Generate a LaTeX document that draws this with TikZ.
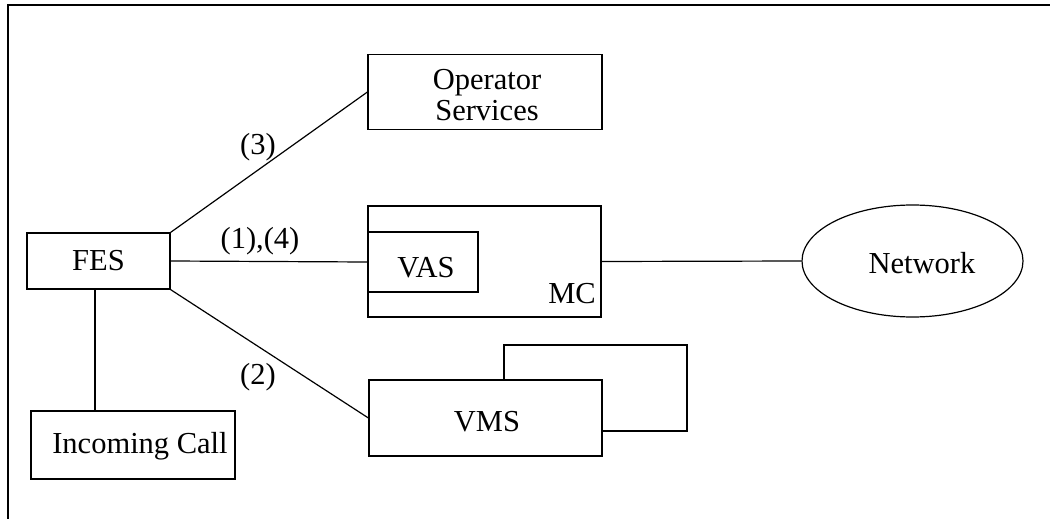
\documentclass[tikz,border=0pt]{standalone}
\usepackage{fontspec}
\setmainfont{Liberation Serif}
\usetikzlibrary{shapes,arrows,positioning}

\begin{document}
\begin{tikzpicture}[x=1pt, y=-1pt, line width=1.2pt,
    font=\fontsize{30.5}{29}\selectfont,
    box/.style={rectangle, draw, fill=white, inner sep=0pt},
    lbl/.style={inner sep=0pt}]
    \useasboundingbox (0,0) rectangle (1050,519);

    % Frame
    \draw[line width=2pt] (7.5,519) -- (7.5,5.5) -- (1050,5.5);

    % Front end
    \node (fes) [box, minimum width=143pt, minimum height=56pt] at (98.5,261) {FES};
    \node (call) [box, minimum width=204pt, minimum height=68pt] at (133,445) {};
    \node (calllbl) [lbl] at (140,446) {Incoming Call};

    % Servers
    \node (ops) [box, minimum width=234pt, minimum height=75pt] at (485,92) {};
    \node (opslbl) [lbl, align=center, font=\fontsize{30.5}{31}\selectfont] at (487,95) {Operator\\Services};
    \node (mc) [box, minimum width=233pt, minimum height=111pt] at (484.5,261.5) {};
    \node (mclbl) [lbl] at (572,294) {MC};
    \node (vas) [box, minimum width=110pt, minimum height=60pt] at (423,262) {};
    \node (vaslbl) [lbl] at (426,268) {VAS};
    \node (vmsback) [box, minimum width=183pt, minimum height=86pt] at (595.5,388) {};
    \node (vms) [box, minimum width=233pt, minimum height=76pt] at (485.5,418) {};
    \node (vmslbl) [lbl] at (487,422) {VMS};

    % Network
    \node (net) [ellipse, draw, minimum width=221pt, minimum height=112pt] at (912.5,261) {};
    \node (netlbl) [lbl] at (922,263) {Network};

    % Connections
    \draw (fes.north east) -- (ops.west);
    \draw (fes.east) -- (vas.west);
    \draw (fes.south east) -- (vms.west);
    \draw (fes.south -| 95,0) -- (call.north -| 95,0);
    \draw (mc.east) -- (net.west);

    % Labels
    \node (l3) [lbl] at (258,147) {(3)};
    \node (l14) [lbl] at (260,241) {(1),(4)};
    \node (l2) [lbl] at (258,377) {(2)};
\end{tikzpicture}
\end{document}
